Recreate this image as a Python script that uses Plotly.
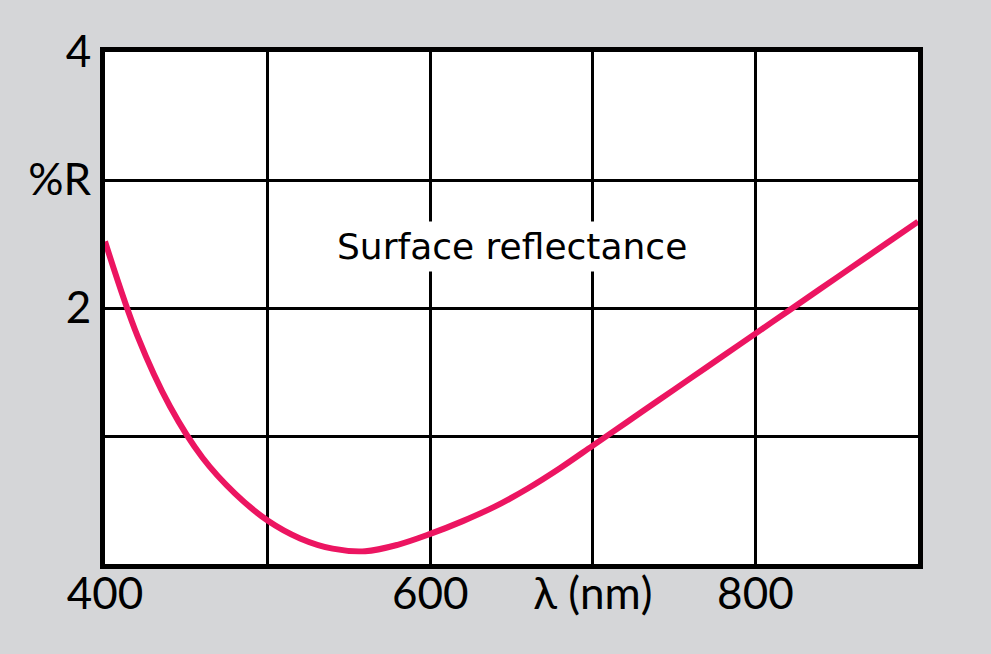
import plotly.graph_objects as go

wavelength_nm = [400, 420, 440, 460, 480, 500, 520, 540, 560, 580, 600, 620, 640, 660, 680,
                 700, 720, 740, 760, 780, 800, 820, 840, 860, 880, 900]
reflectance_pct = [2.52, 1.78, 1.23, 0.83, 0.55, 0.34, 0.20, 0.12, 0.10, 0.15, 0.235, 0.335,
                   0.45, 0.59, 0.75, 0.925, 1.10, 1.275, 1.45, 1.625, 1.80, 1.975, 2.15, 2.325,
                   2.50, 2.675]

x_tickvals = [400, 500, 600, 700, 800, 900]
x_ticktext = ["400", "", "600", "λ (nm)", "800", ""]
y_tickvals = [0, 1, 2, 3, 4]
y_ticktext = ["", "", "2", "%R", "4"]

label_text = "Surface reflectance"
label_x = 650
label_y = 2.48

FONT = "Lato"
BG = "#D5D6D8"

fig = go.Figure()
fig.add_trace(go.Scatter(
    x=wavelength_nm, y=reflectance_pct, mode="lines",
    line=dict(color="#EC1561", width=6, shape="spline", smoothing=1.0),
    hoverinfo="skip", showlegend=False,
))

fig.add_annotation(
    x=label_x, y=label_y, text=label_text, showarrow=False,
    font=dict(family="DejaVu Sans", size=36, color="black"),
    bgcolor="white", borderpad=4,
)

fig.update_layout(
    width=991, height=654,
    margin=dict(l=105, r=73, t=52, b=90),
    paper_bgcolor=BG, plot_bgcolor="white",
    font=dict(family=FONT, size=44, color="black"),
)
fig.update_xaxes(
    range=[400, 900], tickvals=x_tickvals, ticktext=x_ticktext,
    showgrid=True, gridcolor="black", gridwidth=3,
    showline=True, linecolor="black", linewidth=5, mirror=True,
    zeroline=False, ticks="", ticklabelstandoff=-13,
    tickfont=dict(family=FONT, size=44, color="black"),
)
fig.update_yaxes(
    range=[0, 4], tickvals=y_tickvals, ticktext=y_ticktext,
    showgrid=True, gridcolor="black", gridwidth=3,
    showline=True, linecolor="black", linewidth=5, mirror=True,
    zeroline=False, ticks="", ticklabelstandoff=0,
    tickfont=dict(family=FONT, size=44, color="black"),
)

fig.write_html("out.html")
